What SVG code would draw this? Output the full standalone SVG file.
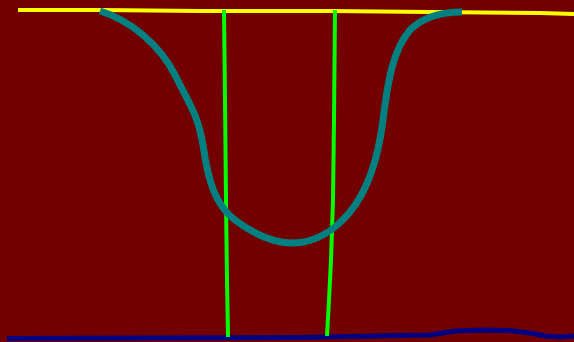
<svg xmlns="http://www.w3.org/2000/svg" width="574" height="342" viewBox="0 0 574 342">
<style>
.ln{fill:none;stroke-linejoin:round;stroke-linecap:butt}
.y{stroke:#ffff00;stroke-width:4}
.b{stroke:#000080;stroke-width:5}
.g{stroke:#00ff00;stroke-width:4}
.t{stroke:#008080;stroke-width:7}
</style>
<rect width="574" height="342" fill="#730000"/>
<polyline class="ln y" points="18,10 100,10 200,11 330,11 430,12 540,13 574,14"/>
<polyline class="ln b" points="7,338.5 150,338 300,337.5 430,335 455,331 480,330 510,330.5 530,333 545,336 560,337 574,336"/>
<polyline class="ln g" points="224,10 225,100 226,200 227,280 228,337"/>
<polyline class="ln g" points="335,10 334,120 333,200 331,260 329,300 327,336"/>
<path class="ln t" d="M100,11 C130,20 160,45 175,75 C190,105 198,115 203,145 C208,180 215,205 235,220 C255,235 275,243 293,243 C315,243 335,230 350,212 C368,190 378,160 383,120 C388,80 393,50 410,30 C425,15 445,12 462,12"/>
</svg>
